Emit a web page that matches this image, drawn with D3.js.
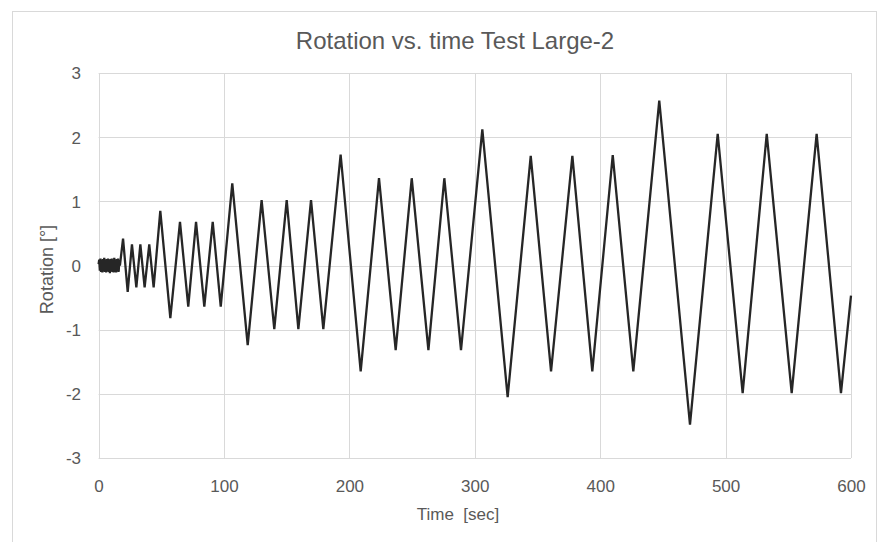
<!DOCTYPE html>
<html>
<head>
<meta charset="utf-8">
<script src="https://cdn.jsdelivr.net/npm/d3@7"></script>
<style>
  html, body { margin: 0; padding: 0; background: #ffffff; }
  svg { display: block; }
  text { font-family: "Liberation Sans", Arial, sans-serif; fill: #595959; }
</style>
</head>
<body>
<svg id="chart" width="883" height="542"></svg>
<script>
// Chart text
const chartTitle = "Rotation vs. time Test Large-2";
const xAxisTitle = "Time  [sec]";
const yAxisTitle = "Rotation [°]";

// Axis ticks
const xTicks = [0, 100, 200, 300, 400, 500, 600];
const yTicks = [-3, -2, -1, 0, 1, 2, 3];

// Initial small-amplitude settling signal (0 - 17 s, every 0.5 s)
const settleTime = [0, 0.5, 1, 1.5, 2, 2.5, 3, 3.5, 4, 4.5, 5, 5.5, 6, 6.5, 7, 7.5, 8, 8.5,
  9, 9.5, 10, 10.5, 11, 11.5, 12, 12.5, 13, 13.5, 14, 14.5, 15, 15.5, 16, 16.5, 17];
const settleRotation = [0.02, 0.09, -0.08, 0.11, -0.1, 0.08, -0.11, 0.1, -0.09, 0.12, -0.1, 0.09,
  -0.11, 0.1, -0.08, 0.11, -0.1, 0.09, -0.12, 0.1, -0.09, 0.11, -0.1, 0.08, -0.11, 0.12, -0.1,
  0.09, -0.11, 0.1, -0.09, 0.11, -0.1, 0.08, 0.0];

// Cyclic loading: turning points of the rotation history
const cycleTime = [19.5, 23.2, 26.6, 30.1, 33.3, 36.7, 40.4, 43.9, 49.2, 57.2,
  64.9, 71.5, 77.7, 84.3, 91.0, 97.4, 106.6, 118.9, 130.0, 140.1,
  150.0, 159.3, 169.4, 179.2, 193.0, 209.0, 223.6, 236.9, 249.7, 263.0,
  275.7, 289.0, 306.0, 326.2, 344.6, 360.8, 377.8, 393.7, 410.0, 426.4,
  447.1, 471.6, 493.7, 513.6, 532.8, 552.7, 572.6, 592.0, 600.0];
const cycleRotation = [0.42, -0.41, 0.33, -0.34, 0.33, -0.34, 0.33, -0.34, 0.85, -0.82,
  0.68, -0.64, 0.68, -0.64, 0.68, -0.64, 1.28, -1.24, 1.02, -0.99,
  1.02, -0.99, 1.02, -0.99, 1.73, -1.65, 1.36, -1.32, 1.36, -1.32,
  1.36, -1.32, 2.12, -2.05, 1.71, -1.65, 1.71, -1.65, 1.72, -1.65,
  2.57, -2.48, 2.05, -1.99, 2.05, -1.99, 2.05, -1.99, -0.47];

const svg = d3.select("#chart");
const plot = { left: 98.6, right: 851, top: 73, bottom: 458 };

// Chart frame
svg.append("rect")
  .attr("x", 12.5).attr("y", 11.5)
  .attr("width", 864).attr("height", 545)
  .attr("fill", "#ffffff")
  .attr("stroke", "#d9d9d9").attr("stroke-width", 1);

const x = d3.scaleLinear().domain([0, 600]).range([plot.left, plot.right]);
const y = d3.scaleLinear().domain([-3, 3]).range([plot.bottom, plot.top]);

// Gridlines
const grid = svg.append("g").attr("stroke", "#d9d9d9").attr("stroke-width", 1);
grid.selectAll("line.h").data(yTicks).join("line")
  .attr("class", "h")
  .attr("x1", plot.left).attr("x2", plot.right)
  .attr("y1", d => Math.round(y(d)) + 0.5).attr("y2", d => Math.round(y(d)) + 0.5);
grid.selectAll("line.v").data(xTicks).join("line")
  .attr("class", "v")
  .attr("y1", plot.top).attr("y2", plot.bottom)
  .attr("x1", d => Math.round(x(d)) + 0.5).attr("x2", d => Math.round(x(d)) + 0.5);

// Plain hyphen-minus for negative tick labels
const fmt = d => String(d);

// Axes (labels only; lines are the gridlines)
const xAxis = d3.axisBottom(x).tickValues(xTicks).tickSize(0).tickPadding(0).tickFormat(fmt);
const gx = svg.append("g").attr("transform", `translate(0,${plot.bottom})`).call(xAxis);
gx.select(".domain").remove();
gx.selectAll("text").attr("dy", null).attr("y", 34)
  .style("font-size", "17px").attr("fill", "#595959");

const yAxis = d3.axisLeft(y).tickValues(yTicks).tickSize(0).tickPadding(0).tickFormat(fmt);
const gy = svg.append("g").attr("transform", `translate(81,0)`).call(yAxis);
gy.select(".domain").remove();
gy.selectAll("text").attr("x", 0).attr("dy", "0.35em")
  .style("font-size", "17px").attr("fill", "#595959");

// Titles
svg.append("text")
  .attr("x", 455).attr("y", 49)
  .attr("text-anchor", "middle")
  .style("font-size", "24px")
  .text(chartTitle);

svg.append("text")
  .attr("x", 458).attr("y", 520)
  .attr("text-anchor", "middle")
  .style("font-size", "17px")
  .attr("xml:space", "preserve")
  .style("white-space", "pre")
  .text(xAxisTitle);

svg.append("text")
  .attr("transform", `translate(53,${(plot.top + plot.bottom) / 2 + 4}) rotate(-90)`)
  .attr("text-anchor", "middle")
  .style("font-size", "18px")
  .text(yAxisTitle);

// Rotation history
const series = settleTime.map((t, i) => [t, settleRotation[i]])
  .concat(cycleTime.map((t, i) => [t, cycleRotation[i]]));

const line = d3.line().x(d => x(d[0])).y(d => y(d[1]));
svg.append("path")
  .datum(series)
  .attr("fill", "none")
  .attr("stroke", "#262626")
  .attr("stroke-width", 2.3)
  .attr("stroke-linejoin", "miter")
  .attr("d", line);
</script>
</body>
</html>
